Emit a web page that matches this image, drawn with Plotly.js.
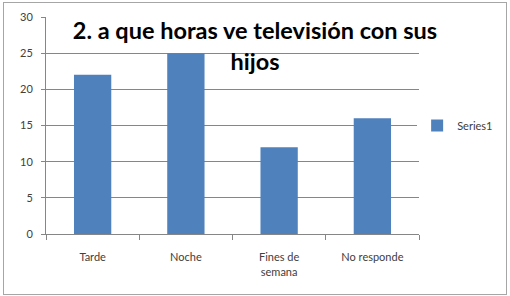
<!DOCTYPE html>
<html><head><meta charset="utf-8">
<script src="https://cdn.plot.ly/plotly-3.0.1.min.js"></script>
<style>
html,body{margin:0;padding:0;background:#fff;}
#wrap{position:relative;width:510px;height:296px;}
#chart{position:absolute;left:0;top:0;width:510px;height:296px;}
#border{position:absolute;left:3px;top:2px;width:502px;height:291px;border:1px solid #a6a6a6;pointer-events:none;}
</style></head>
<body><div id="wrap"><div id="chart"></div><div id="border"></div></div>
<script>
const categories = ["Tarde", "Noche", "Fines de<br>semana", "No responde"];
const seriesName = "Series1";
const values = [22, 25, 12, 16];
const yTicks = [0, 5, 10, 15, 20, 25, 30];
const titleText = "2. a que horas ve televisión con sus<br>hijos";

const trace = {
  type: "bar", x: categories, y: values, name: seriesName,
  marker: {color: "#4F81BD"}, showlegend: true
};
const layout = {
  width: 510, height: 296,
  margin: {l: 46, r: 91, t: 17, b: 62, autoexpand: false},
  paper_bgcolor: "#fff", plot_bgcolor: "#fff",
  bargap: 0.6,
  font: {family: "Lato, 'Open Sans', sans-serif", size: 11, color: "#404040"},
  title: {text: titleText, font: {family: "Lato, sans-serif", size: 23.5, color: "#000", weight: "bold"},
          x: 0.5, xanchor: "center", xref: "container", y: 0.868, yanchor: "middle", yref: "container"},
  xaxis: {type: "category", showline: true, linecolor: "#868686", linewidth: 1,
          ticks: "outside", tickson: "boundaries", ticklen: 5, tickcolor: "#868686",
          showgrid: false, ticklabelstandoff: 13, fixedrange: true, automargin: false},
  yaxis: {range: [0, 30], tickvals: yTicks, showline: true, linecolor: "#868686", linewidth: 1,
          ticks: "outside", ticklen: 4, tickcolor: "#868686",
          showgrid: true, gridcolor: "#868686", gridwidth: 1, zeroline: false,
          ticklabelstandoff: 6, fixedrange: true, automargin: false},
  legend: {x: 0.995, y: 0.5, xanchor: "left", yanchor: "middle", font: {size: 11, color: "#404040"},
           itemwidth: 30},
};
Plotly.newPlot("chart", [trace], layout, {displayModeBar: false, staticPlot: true});
</script></body></html>
